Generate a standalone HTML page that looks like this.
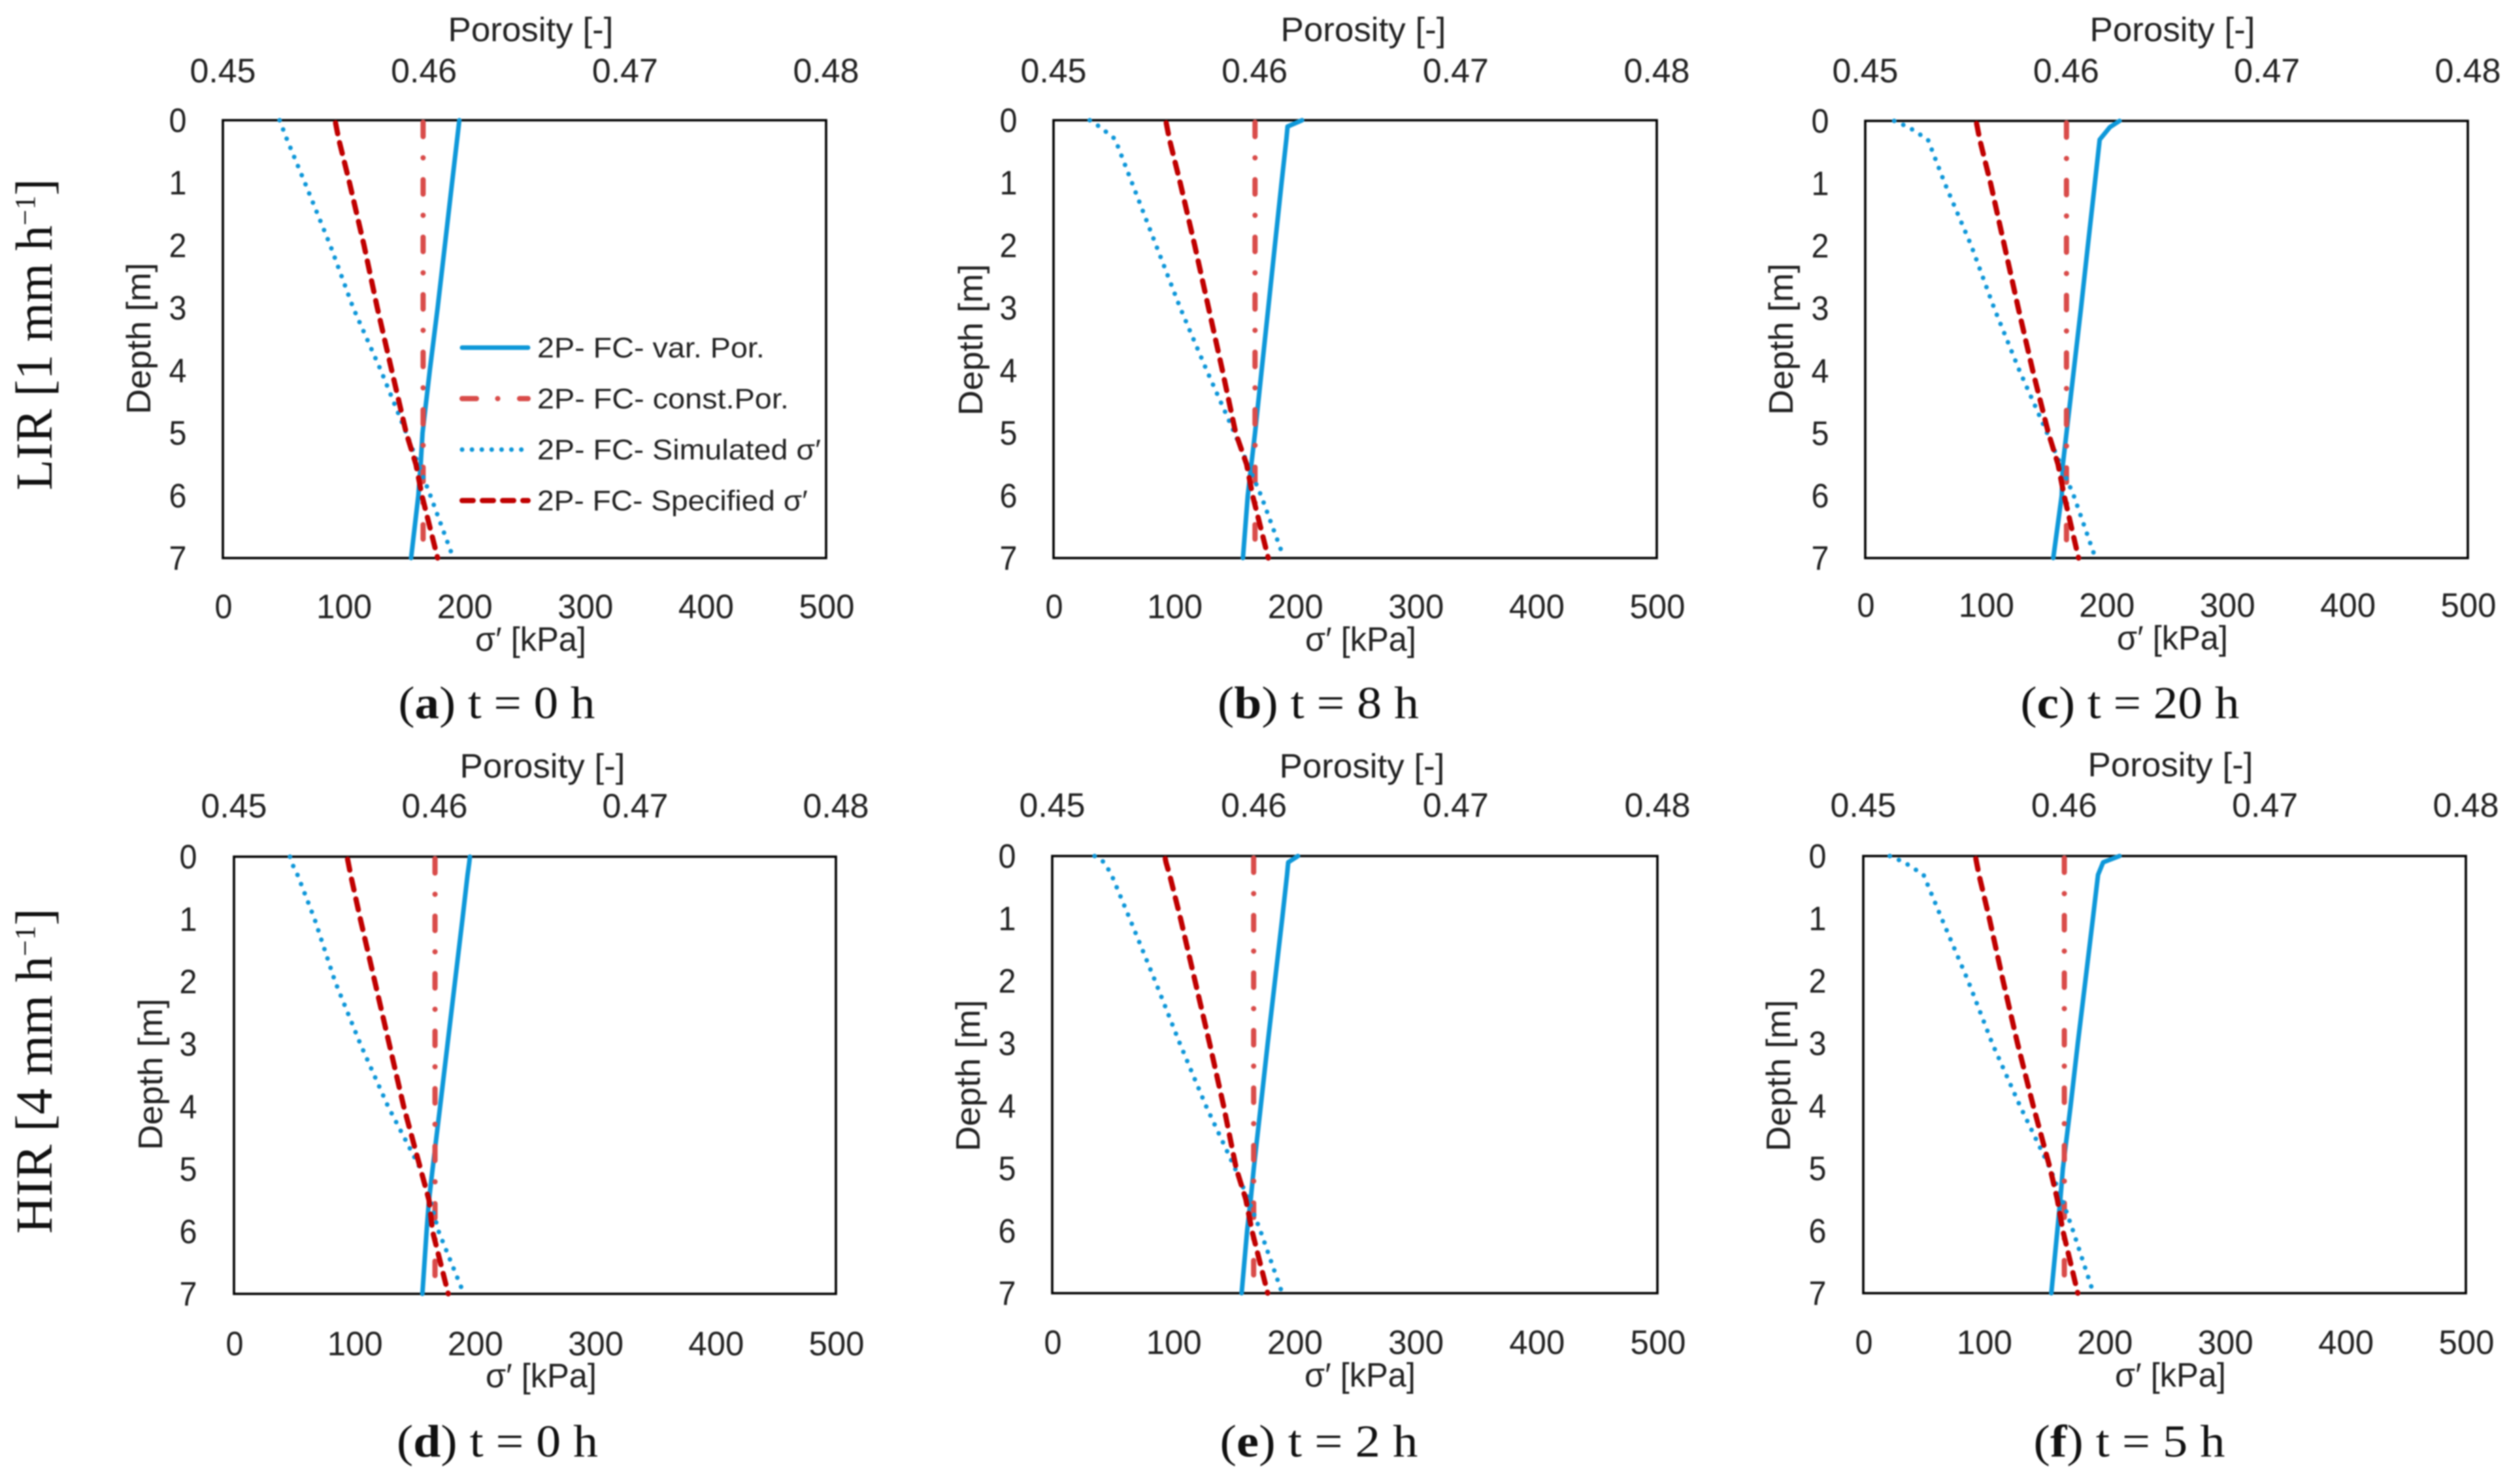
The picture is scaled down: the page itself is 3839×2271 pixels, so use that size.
<!DOCTYPE html>
<html lang="en">
<head>
<meta charset="utf-8">
<title>Stress and porosity profiles with depth</title>
<style>
html,body{margin:0;padding:0;background:#fff;}
svg{display:block;filter:blur(1px);}
text{fill:#222;font-family:"Liberation Sans",sans-serif;}
.serif{font-family:"Liberation Serif",serif;fill:#111;}
</style>
</head>
<body>
<svg id="figure" xmlns="http://www.w3.org/2000/svg" width="3839" height="2271" viewBox="0 0 3839 2271">
<rect x="0" y="0" width="3839" height="2271" fill="#ffffff"/>
</svg>
<script>
// Shared axis values
const stressTicks = [0, 100, 200, 300, 400, 500];
const depthTicks = [0, 1, 2, 3, 4, 5, 6, 7];
const porosityTicks = ['0.45', '0.46', '0.47', '0.48'];
const depths = [0, 0.1, 0.3, 1, 2, 3, 4, 5, 5.5, 6, 7];

// Panel a: LIR, t = 0 h
const varPorA = [196, 195.4, 194.2, 190, 184, 178, 171.5, 165.5, 164, 162, 156];
const constPorA = [166, 166, 166, 166, 166, 166, 166, 166, 166, 166, 166];
const simulatedA = [47, 49, 53, 68, 89, 108, 131, 152, 162, 172, 191];
const specifiedA = [93, 94, 96, 105, 117, 128, 140, 152, 160, 165, 178];

// Panel b: LIR, t = 8 h
const varPorB = [206, 194, 193, 189, 183.5, 178, 172.5, 167, 164, 161, 157];
const constPorB = [167, 167, 167, 167, 167, 167, 167, 167, 167, 167, 167];
const simulatedB = [30, 38, 51, 65, 85, 105, 127, 150, 161, 172, 191];
const specifiedB = [93, 94, 96, 105, 117, 128.5, 140, 151, 160, 165, 178];

// Panel c: LIR, t = 20 h
const varPorC = [211, 203, 194.5, 190.5, 184.7, 179, 173, 167, 164, 163, 156];
const constPorC = [167, 167, 167, 167, 167, 167, 167, 167, 167, 167, 167];
const simulatedC = [24, 36, 52, 66, 88, 107, 128, 151, 162, 173, 191];
const specifiedC = [92, 93, 95, 104, 115.5, 127, 139, 152, 160, 165, 177];

// Panel d: HIR, t = 0 h
const varPorD = [196, 195.4, 194, 189.8, 183.6, 177.4, 171.2, 165, 162, 160, 156.5];
const constPorD = [167, 167, 167, 167, 167, 167, 167, 167, 167, 167, 167];
const simulatedD = [46.5, 48, 53, 67, 84, 105, 128, 155, 163, 170, 191];
const specifiedD = [94, 95, 97, 105, 117, 129, 141, 155, 162, 165, 178];

// Panel e: HIR, t = 2 h
const varPorE = [203, 195, 194, 190, 184, 178, 172.3, 166.5, 164, 161, 156.5];
const constPorE = [166.4, 166.4, 166.4, 166.4, 166.4, 166.4, 166.4, 166.4, 166.4, 166.4, 166.4];
const simulatedE = [35, 43, 49, 64, 85, 105.4, 127, 151, 162, 172, 190];
const specifiedE = [93, 94, 97, 106, 118, 130, 141.6, 152, 160, 165, 178];

// Panel f: HIR, t = 5 h
const varPorF = [212.6, 199, 194.8, 190.5, 184.3, 178, 172, 165.6, 163.5, 161, 156];
const constPorF = [166.8, 166.8, 166.8, 166.8, 166.8, 166.8, 166.8, 166.8, 166.8, 166.8, 166.8];
const simulatedF = [22, 34, 50, 65, 87, 107, 130, 155, 165, 174, 191];
const specifiedF = [93, 94, 96, 104.6, 116, 128, 141, 155, 161, 165.6, 178];

// Panel geometry (layout only)
const panelLayouts = [
  {id:'a', letter:'a', time:'t = 0 h', L:341, R:1264, T:184, B:854, porX:812, porY:63, topY:126, yTickX:272, botY:946, xlabX:812, xlabY:996, ylabX:230, ylabY:518, capX:760, capW:301, capY:1099,
    series:[varPorA, constPorA, simulatedA, specifiedA]},
  {id:'b', letter:'b', time:'t = 8 h', L:1612, R:2535, T:184, B:854, porX:2086, porY:63, topY:126, yTickX:1543, botY:946, xlabX:2082, xlabY:996, ylabX:1503, ylabY:520, capX:2017, capW:308, capY:1099,
    series:[varPorB, constPorB, simulatedB, specifiedB]},
  {id:'c', letter:'c', time:'t = 20 h', L:2854, R:3776, T:185, B:854, porX:3324, porY:63, topY:126, yTickX:2785, botY:944, xlabX:3324, xlabY:994, ylabX:2743, ylabY:519, capX:3259, capW:335, capY:1099,
    series:[varPorC, constPorC, simulatedC, specifiedC]},
  {id:'d', letter:'d', time:'t = 0 h', L:358, R:1279, T:1311, B:1980, porX:830, porY:1190, topY:1251, yTickX:288, botY:2074, xlabX:828, xlabY:2123, ylabX:248, ylabY:1644, capX:761, capW:308, capY:2229,
    series:[varPorD, constPorD, simulatedD, specifiedD]},
  {id:'e', letter:'e', time:'t = 2 h', L:1610, R:2536, T:1310, B:1979, porX:2084, porY:1190, topY:1250, yTickX:1541, botY:2072, xlabX:2081, xlabY:2122, ylabX:1499, ylabY:1646, capX:2018, capW:303, capY:2229,
    series:[varPorE, constPorE, simulatedE, specifiedE]},
  {id:'f', letter:'f', time:'t = 5 h', L:2851, R:3773, T:1310, B:1979, porX:3321, porY:1188, topY:1250, yTickX:2781, botY:2072, xlabX:3321, xlabY:2122, ylabX:2739, ylabY:1646, capX:3258, capW:293, capY:2229,
    series:[varPorF, constPorF, simulatedF, specifiedF]}
];

const seriesLabels = ['2P- FC- var. Por.', '2P- FC- const.Por.', '2P- FC- Simulated σ′', '2P- FC- Specified σ′'];
const seriesSlugs = ['var-por', 'const-por', 'simulated', 'specified'];
const seriesColors = ['#0e98d9', '#d94c4a', '#0f97d9', '#c00000'];
const seriesDash = ['', '22 32.5 0.1 33.4', '0.1 15', '17 14'];
const seriesOffset = [0, -3, 0, -4];
const seriesWidth = [7, 8, 7, 8];
const legendTextWidths = [348, 385, 434, 414];

const NS = 'http://www.w3.org/2000/svg';
const svg = document.getElementById('figure');

function make(tag, parent) {
  const el = document.createElementNS(NS, tag);
  parent.appendChild(el);
  return el;
}

function xScale(p, v) { return p.L + (v - stressTicks[0]) / (stressTicks[stressTicks.length - 1] - stressTicks[0]) * (p.R - p.L); }
function yScale(p, d) { return p.T + (d - depthTicks[0]) / (depthTicks[depthTicks.length - 1] - depthTicks[0]) * (p.B - p.T); }
function porScale(p, i) { return p.L + i / (porosityTicks.length - 1) * (p.R - p.L); }

// Places a text element, then scales it horizontally to the measured width in the reference.
function place(el, x, y, size, width, rot, anchor) {
  el.setAttribute('font-size', size);
  el.setAttribute('text-anchor', anchor || 'middle');
  el.setAttribute('x', 0);
  el.setAttribute('y', 0);
  const w = el.getComputedTextLength();
  const s = w > 0 && width ? width / w : 1;
  el.setAttribute('transform', 'translate(' + x + ' ' + y + ') rotate(' + (rot || 0) + ') scale(' + s.toFixed(4) + ' 1)');
}

function tickWidth(str) {
  if (str.length === 1) return 27;
  if (str.length === 3) return 85;
  return 101;
}

function styleSeries(line, i) {
  line.setAttribute('fill', 'none');
  line.setAttribute('stroke', seriesColors[i]);
  line.setAttribute('stroke-width', seriesWidth[i]);
  line.setAttribute('stroke-linejoin', 'round');
  line.setAttribute('stroke-linecap', 'round');
  if (seriesDash[i]) {
    line.setAttribute('stroke-dasharray', seriesDash[i]);
  }
}

panelLayouts.forEach(function (p) {
  const g = make('g', svg);
  
  

  const frame = make('rect', g);
  
  
  frame.setAttribute('x', p.L);
  frame.setAttribute('y', p.T);
  frame.setAttribute('width', p.R - p.L);
  frame.setAttribute('height', p.B - p.T);
  frame.setAttribute('fill', '#fff');
  frame.setAttribute('stroke', '#000');
  frame.setAttribute('stroke-width', '3.6');

  porosityTicks.forEach(function (label, i) {
    const t = make('text', g);
    
    
    t.textContent = label;
    place(t, porScale(p, i), p.topY, 52, tickWidth(label));
  });

  stressTicks.forEach(function (v) {
    const t = make('text', g);
    
    
    t.textContent = String(v);
    place(t, xScale(p, v) + 1, p.botY, 52, tickWidth(String(v)));
  });

  depthTicks.forEach(function (d) {
    const t = make('text', g);
    
    
    t.textContent = String(d);
    place(t, p.yTickX, yScale(p, d) + 18, 52, tickWidth(String(d)));
  });

  const porTitle = make('text', g);
  
  
  porTitle.textContent = 'Porosity [-]';
  place(porTitle, p.porX, p.porY, 52, 253);

  const xTitle = make('text', g);
  
  
  xTitle.textContent = 'σ′ [kPa]';
  place(xTitle, p.xlabX, p.xlabY, 52, 170);

  const yTitle = make('text', g);
  
  
  yTitle.textContent = 'Depth [m]';
  place(yTitle, p.ylabX, p.ylabY, 52, 232, -90);

  p.series.forEach(function (values, i) {
    const line = make('path', g);
    
    
    const d = values.map(function (v, k) {
      return (k ? 'L' : 'M') + xScale(p, v).toFixed(1) + ' ' + yScale(p, depths[k]).toFixed(1);
    }).join(' ');
    line.setAttribute('d', d);
    styleSeries(line, i);
    if (seriesOffset[i]) {
      line.setAttribute('stroke-dashoffset', seriesOffset[i]);
    }
  });

  const cap = make('text', g);
  
  
  cap.setAttribute('class', 'serif');
  const c1 = make('tspan', cap);
  c1.textContent = '(';
  const c2 = make('tspan', cap);
  c2.setAttribute('font-weight', 'bold');
  c2.textContent = p.letter;
  const c3 = make('tspan', cap);
  c3.textContent = ') ' + p.time;
  place(cap, p.capX, p.capY, 70, p.capW);

  if (p.id === 'a') {
    const legend = make('g', g);
    
    
    seriesLabels.forEach(function (label, i) {
      const rowY = 532 + i * 78;
      const sample = make('line', legend);
      
      
      sample.setAttribute('x1', 707);
      sample.setAttribute('x2', 808);
      sample.setAttribute('y1', rowY);
      sample.setAttribute('y2', rowY);
      styleSeries(sample, i);
      const t = make('text', legend);
      
      
      t.textContent = label;
      place(t, 822, rowY + 15, 44, legendTextWidths[i], 0, 'start');
    });
  }
});

function rowLabel(name, prefix, x, y, width) {
  const t = make('text', svg);
  
  
  t.setAttribute('class', 'serif');
  const a = make('tspan', t);
  a.textContent = prefix;
  const b = make('tspan', t);
  b.setAttribute('font-size', '44');
  b.setAttribute('dy', '-26');
  b.textContent = '−1';
  const c = make('tspan', t);
  c.setAttribute('dy', '26');
  c.textContent = ']';
  place(t, x, y, 79, width, -90);
}
rowLabel('row-label-lir', 'LIR [1 mm h', 79, 512, 477);
rowLabel('row-label-hir', 'HIR [4 mm h', 79, 1639, 498);
</script>
</body>
</html>
